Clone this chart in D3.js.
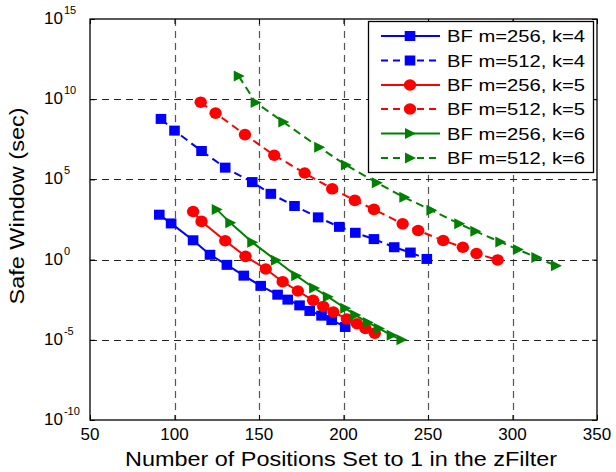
<!DOCTYPE html>
<html>
<head>
<meta charset="utf-8">
<script src="https://cdn.jsdelivr.net/npm/d3@7"></script>
<style>
  html, body { margin: 0; padding: 0; background: #fff; }
  svg { display: block; font-family: "Liberation Sans", Arial, Helvetica, sans-serif; }
</style>
</head>
<body>
<svg id="chart" width="616" height="472"></svg>
<script>
// ---------- data ----------
const xTicks = [50, 100, 150, 200, 250, 300, 350];
const yTickExponents = [-10, -5, 0, 5, 10, 15];

const seriesNames = [
  "BF m=256, k=4", "BF m=512, k=4",
  "BF m=256, k=5", "BF m=512, k=5",
  "BF m=256, k=6", "BF m=512, k=6"
];

const x256k4 = [91, 98, 111, 121, 131, 141, 151, 161, 167, 174, 180, 187, 193, 201];
const y256k4 = [6.3e2, 1.8e2, 1.6e1, 2.0, 4.7e-1, 1.0e-1, 2.3e-2, 6.5e-3, 3.2e-3, 1.4e-3, 6.3e-4, 3.2e-4, 1.7e-4, 6.3e-5];

const x512k4 = [92, 100, 116, 130, 146, 157, 171, 185, 197.5, 207, 218, 230, 239.6, 249.3];
const y512k4 = [5.9e8, 1.1e8, 5.9e6, 5.4e5, 6.8e4, 1.26e4, 2.2e3, 4.3e2, 1.1e2, 4.7e1, 1.9e1, 5.9, 2.75, 1.1];

const x256k5 = [111, 116, 130, 142, 154, 164, 173, 182, 188, 194, 202, 208, 213, 218.5];
const y256k5 = [1.0e3, 2.4e2, 1.5e1, 1.6, 2.6e-1, 4.2e-2, 1.1e-2, 2.9e-3, 1.2e-3, 5.4e-4, 2.0e-4, 1.0e-4, 5.1e-5, 2.6e-5];

const x512k5 = [115.5, 124.3, 141.7, 159, 177, 193.3, 206.7, 218, 235, 244.2, 259, 270.6, 278.7, 291.2];
const y512k5 = [6.5e9, 1.35e9, 6.2e7, 3.2e6, 2.5e5, 2.6e4, 4.9e3, 1.35e3, 1.7e2, 6.5e1, 1.55e1, 5.9, 2.4, 9.5e-1];

const x256k6 = [125, 133, 146, 160, 172, 182.6, 190.7, 201, 207, 214.4, 221, 228.5, 234.3];
const y256k6 = [1.35e3, 1.95e2, 1.2e1, 9.1e-1, 1.0e-1, 1.7e-2, 4.9e-3, 9.3e-4, 3.5e-4, 1.2e-4, 5.1e-5, 1.9e-5, 1.0e-5];

const x512k6 = [138, 148, 164.4, 185.6, 201.4, 219.7, 236, 252, 268.5, 278, 292.8, 303.2, 314.1, 325.7];
const y512k6 = [2.75e11, 6.2e9, 3.8e8, 1.0e7, 7.9e5, 6.2e4, 7.6e3, 1.2e3, 1.7e2, 5.9e1, 1.26e1, 4.3, 1.35, 4.2e-1];

const xLabel = "Number of Positions Set to 1 in the zFilter";
const yLabel = "Safe Window (sec)";

// ---------- styling ----------
const seriesStyle = [
  { xs: x256k4, ys: y256k4, color: "#0000ff", dash: null,  marker: "square" },
  { xs: x512k4, ys: y512k4, color: "#0000ff", dash: "8,5", marker: "square" },
  { xs: x256k5, ys: y256k5, color: "#ff0000", dash: null,  marker: "circle" },
  { xs: x512k5, ys: y512k5, color: "#ff0000", dash: "8,5", marker: "circle" },
  { xs: x256k6, ys: y256k6, color: "#008000", dash: null,  marker: "triangle" },
  { xs: x512k6, ys: y512k6, color: "#008000", dash: "8,5", marker: "triangle" }
];

const W = 616, H = 472;
const plot = { left: 90, right: 597, top: 19, bottom: 420 };

const svg = d3.select("#chart");

const x = d3.scaleLinear().domain([50, 350]).range([plot.left, plot.right]);
const y = d3.scaleLog().domain([1e-10, 1e15]).range([plot.bottom, plot.top]);

// background
svg.append("rect").attr("x", 0).attr("y", 0).attr("width", W).attr("height", H).attr("fill", "#fff");

// grid
const grid = svg.append("g");
grid.selectAll("line.vg")
  .data(xTicks.filter(d => d > 50 && d < 350))
  .enter().append("line")
  .attr("x1", d => Math.round(x(d)) + 0.5).attr("x2", d => Math.round(x(d)) + 0.5)
  .attr("y1", plot.top).attr("y2", plot.bottom)
  .attr("stroke", "#555").attr("stroke-width", 1.2).attr("stroke-dasharray", "7,5");
grid.selectAll("line.hg")
  .data(yTickExponents.filter(e => e > -10 && e < 15))
  .enter().append("line")
  .attr("x1", plot.left).attr("x2", plot.right)
  .attr("y1", e => Math.round(y(Math.pow(10, e))) + 0.5).attr("y2", e => Math.round(y(Math.pow(10, e))) + 0.5)
  .attr("stroke", "#222").attr("stroke-width", 1).attr("stroke-dasharray", "7,5");

// axes with inward ticks
svg.append("g")
  .attr("transform", `translate(0,${plot.bottom})`)
  .call(d3.axisBottom(x).tickValues(xTicks).tickSize(-5).tickFormat(""))
  .call(g => g.select(".domain").remove());
svg.append("g")
  .attr("transform", `translate(0,${plot.top})`)
  .call(d3.axisTop(x).tickValues(xTicks).tickSize(-5).tickFormat(""))
  .call(g => g.select(".domain").remove());
svg.append("g")
  .attr("transform", `translate(${plot.left},0)`)
  .call(d3.axisLeft(y).tickValues(yTickExponents.map(e => Math.pow(10, e))).tickSize(-5).tickFormat(""))
  .call(g => g.select(".domain").remove());
svg.append("g")
  .attr("transform", `translate(${plot.right},0)`)
  .call(d3.axisRight(y).tickValues(yTickExponents.map(e => Math.pow(10, e))).tickSize(-5).tickFormat(""))
  .call(g => g.select(".domain").remove());

// box
svg.append("rect")
  .attr("x", plot.left).attr("y", plot.top)
  .attr("width", plot.right - plot.left).attr("height", plot.bottom - plot.top)
  .attr("fill", "none").attr("stroke", "#000").attr("stroke-width", 1.3);

// x tick labels
svg.append("g").selectAll("text")
  .data(xTicks).enter().append("text")
  .attr("x", d => x(d)).attr("y", plot.bottom + 20)
  .attr("text-anchor", "middle")
  .attr("font-size", 17).attr("fill", "#000")
  .text(d => d);

// y tick labels 10^e
const yl = svg.append("g").selectAll("text")
  .data(yTickExponents).enter().append("text")
  .attr("x", 44).attr("y", e => y(Math.pow(10, e)) + 5)
  .attr("font-size", 17).attr("fill", "#000");
yl.append("tspan").text("10");
yl.append("tspan").attr("dx", 1).attr("dy", -10).attr("font-size", 11).text(e => e);

// axis titles
svg.append("text")
  .attr("x", 125).attr("y", 466)
  .attr("font-size", 20).attr("fill", "#000")
  .attr("textLength", 432).attr("lengthAdjust", "spacingAndGlyphs")
  .text(xLabel);
svg.append("text")
  .attr("transform", `translate(23.5,${206}) rotate(-90)`)
  .attr("text-anchor", "middle")
  .attr("font-size", 20).attr("fill", "#000")
  .attr("textLength", 197).attr("lengthAdjust", "spacingAndGlyphs")
  .text(yLabel);

// markers
function drawMarker(g, type, cx, cy, color) {
  if (type === "square") {
    g.append("rect").attr("x", cx - 5.3).attr("y", cy - 5).attr("width", 10.6).attr("height", 10).attr("fill", color);
  } else if (type === "circle") {
    g.append("ellipse").attr("cx", cx).attr("cy", cy).attr("rx", 6.2).attr("ry", 5.8).attr("fill", color);
  } else {
    g.append("path").attr("d", `M${cx - 5},${cy - 5.5} L${cx + 6},${cy} L${cx - 5},${cy + 5.5} Z`).attr("fill", color);
  }
}

const line = d3.line().x(d => x(d[0])).y(d => y(d[1]));
const series = svg.append("g");
seriesStyle.forEach(s => {
  const pts = s.xs.map((xv, i) => [xv, s.ys[i]]);
  series.append("path")
    .attr("d", line(pts))
    .attr("fill", "none").attr("stroke", s.color).attr("stroke-width", 2)
    .attr("stroke-dasharray", s.dash);
  const mg = series.append("g");
  pts.forEach(p => drawMarker(mg, s.marker, x(p[0]), y(p[1]), s.color));
});

// legend
const lg = svg.append("g");
lg.append("rect").attr("x", 368.5).attr("y", 21.5).attr("width", 225).attr("height", 151)
  .attr("fill", "#fff").attr("stroke", "#000").attr("stroke-width", 1.3);
const rowY = [36, 60.5, 85, 109, 133.5, 158];
seriesStyle.forEach((s, i) => {
  const ry = rowY[i];
  lg.append("line").attr("x1", 381).attr("x2", 440).attr("y1", ry).attr("y2", ry)
    .attr("stroke", s.color).attr("stroke-width", 2).attr("stroke-dasharray", s.dash ? "7,5" : null);
  drawMarker(lg, s.marker, 410, ry, s.color);
  lg.append("text").attr("x", 447).attr("y", ry + 6)
    .attr("font-size", 17).attr("fill", "#000")
    .attr("textLength", 138).attr("lengthAdjust", "spacingAndGlyphs")
    .text(seriesNames[i]);
});
</script>
</body>
</html>
